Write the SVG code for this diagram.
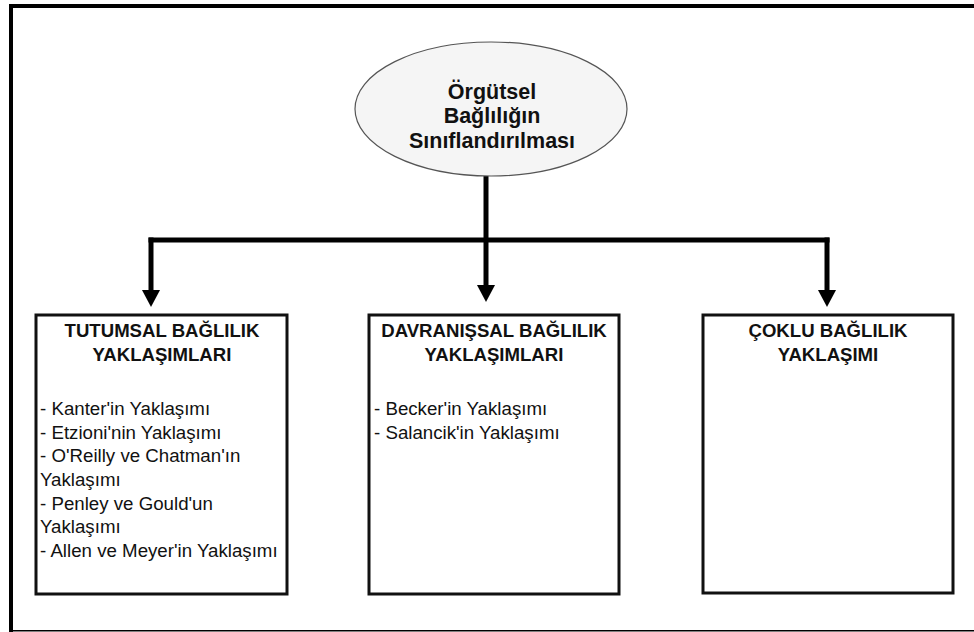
<svg xmlns="http://www.w3.org/2000/svg" width="974" height="632" viewBox="0 0 974 632">
<style>
.frame{fill:#000}
.box{fill:#fff;stroke:#111;stroke-width:3}
.ell{fill:#f5f5f5;stroke:#555;stroke-width:1.2}
.conn{stroke:#000;stroke-width:5;fill:none}
.t{font-family:"Liberation Sans",Arial,sans-serif;font-size:18.7px;fill:#111}
.b{font-weight:bold;text-anchor:middle;font-size:18.6px}
.e{font-size:21.5px}
</style>
<defs>
<marker id="ah" markerUnits="userSpaceOnUse" markerWidth="18" markerHeight="18" refX="0" refY="9" orient="auto" viewBox="0 0 18 18">
<path d="M0,0 L17,9 L0,18 z" fill="#000"/>
</marker>
</defs>
<rect width="974" height="632" fill="#fff"/>
<g id="frame">
<rect class="frame" x="9" y="4" width="965" height="4"/>
<rect class="frame" x="9" y="4" width="4" height="628"/>
<rect class="frame" x="13" y="630" width="961" height="1.5"/>
</g>
<g id="connectors">
<line class="conn" x1="486" y1="176" x2="486" y2="285" marker-end="url(#ah)"/>
<line class="conn" x1="148.5" y1="240" x2="829.5" y2="240"/>
<line class="conn" x1="151" y1="237.5" x2="151" y2="290" marker-end="url(#ah)"/>
<line class="conn" x1="827" y1="237.5" x2="827" y2="290" marker-end="url(#ah)"/>
</g>
<g id="root">
<ellipse class="ell" cx="491" cy="109" rx="136" ry="67"/>
<text class="t b e" x="492" y="99">Örgütsel</text>
<text class="t b e" x="492" y="123">Bağlılığın</text>
<text class="t b e" x="492" y="148">Sınıflandırılması</text>
</g>
<g id="tutumsal">
<rect class="box" x="36" y="315" width="251" height="279"/>
<text class="t b" x="162" y="337">TUTUMSAL BAĞLILIK</text>
<text class="t b" x="162" y="361">YAKLAŞIMLARI</text>
<text class="t" x="40" y="415">- Kanter'in Yaklaşımı</text>
<text class="t" x="40" y="439">- Etzioni'nin Yaklaşımı</text>
<text class="t" x="40" y="462">- O'Reilly ve Chatman'ın</text>
<text class="t" x="40" y="486">Yaklaşımı</text>
<text class="t" x="40" y="510">- Penley ve Gould'un</text>
<text class="t" x="40" y="533">Yaklaşımı</text>
<text class="t" x="40" y="557">- Allen ve Meyer'in Yaklaşımı</text>
</g>
<g id="davranissal">
<rect class="box" x="369" y="315" width="250" height="279"/>
<text class="t b" x="494" y="337">DAVRANIŞSAL BAĞLILIK</text>
<text class="t b" x="494" y="361">YAKLAŞIMLARI</text>
<text class="t" x="374" y="415">- Becker'in Yaklaşımı</text>
<text class="t" x="374" y="439">- Salancik'in Yaklaşımı</text>
</g>
<g id="coklu">
<rect class="box" x="703" y="315" width="250" height="278"/>
<text class="t b" x="828" y="337">ÇOKLU BAĞLILIK</text>
<text class="t b" x="828" y="361">YAKLAŞIMI</text>
</g>
</svg>
